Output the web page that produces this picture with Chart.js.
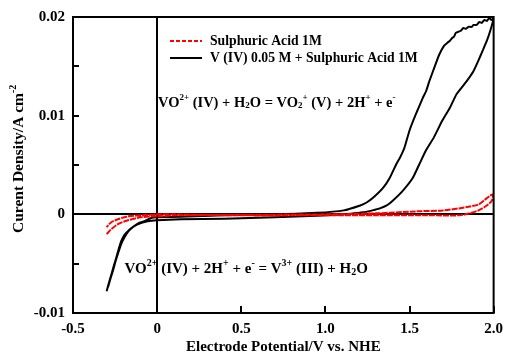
<!DOCTYPE html>
<html>
<head>
<meta charset="utf-8">
<script src="https://cdn.jsdelivr.net/npm/chart.js@4"></script>
<style>
  html, body { margin: 0; padding: 0; background: #fff; }
  #wrap { width: 510px; height: 358px; position: relative; }
</style>
</head>
<body>
<div id="wrap"><canvas id="cv"></canvas></div>
<script>
// axis ticks
const xTicks = [-0.5, 0, 0.5, 1.0, 1.5, 2.0];
const yTicks = [-0.01, 0, 0.01, 0.02];
const yMinorTicks = [-0.005, 0.005, 0.015];

// Sulphuric Acid 1M (one cycle)
const acidX = [-0.30, -0.272, -0.233, -0.174, -0.096, 0, 0.136, 0.5, 1.0, 1.3, 1.539, 1.7, 1.794, 1.86, 1.911, 1.95, 1.98, 1.995, 1.99, 1.96, 1.91, 1.833, 1.794, 1.6, 1.3, 1.0, 0.5, 0.1, 0, -0.096, -0.174, -0.233, -0.272, -0.301];
const acidY = [-0.0020, -0.0015, -0.0010, -0.0006, -0.0003, -0.0002, -0.0001, -0.00005, 0.0, 0.0001, 0.0003, 0.0004, 0.0006, 0.0008, 0.0010, 0.0015, 0.0019, 0.0020, 0.0014, 0.0009, 0.0004, 0.0, -0.0001, -0.0001, -0.0001, -0.0001, -0.0001, 0.0, 0.0, -0.0001, -0.0002, -0.0005, -0.0008, -0.0013];

// V (IV) 0.05 M + Sulphuric Acid 1M (one cycle)
const vanX = [-0.30, -0.286, -0.272, -0.257, -0.243, -0.228, -0.213, -0.195, -0.174, -0.145, -0.116, -0.057, 0, 0.14, 0.4, 0.7, 0.95, 1.07, 1.15, 1.226, 1.28, 1.324, 1.365, 1.402, 1.461, 1.52, 1.559, 1.595, 1.645, 1.695, 1.74, 1.78, 1.84, 1.88, 1.91, 1.935, 1.96, 1.98, 2.0,
  1.985, 1.975, 1.96, 1.945, 1.93, 1.915, 1.9, 1.88, 1.87, 1.85, 1.835, 1.82, 1.805, 1.79, 1.775, 1.765, 1.755, 1.74, 1.726, 1.706, 1.677, 1.648, 1.618, 1.599, 1.579, 1.539, 1.5, 1.471, 1.445, 1.422, 1.383, 1.344, 1.285, 1.245, 1.207, 1.109, 0.95, 0.7, 0.4, 0.14, 0, -0.04, -0.076, -0.11, -0.145, -0.17, -0.193, -0.213, -0.233, -0.248, -0.262, -0.277, -0.292];
const vanY = [-0.0078, -0.0069, -0.0061, -0.0052, -0.0044, -0.0035, -0.0027, -0.0021, -0.0017, -0.0013, -0.0010, -0.0007, -0.0006, -0.0005, -0.00045, -0.0003, -0.00015, -0.00005, 0.00005, 0.0002, 0.0004, 0.0006, 0.0009, 0.0014, 0.0024, 0.0037, 0.0051, 0.0064, 0.0078, 0.0095, 0.0108, 0.0122, 0.0135, 0.0145, 0.0156, 0.0166, 0.0176, 0.0186, 0.0199,
  0.0197, 0.0199, 0.0196, 0.0197, 0.0194, 0.0195, 0.0192, 0.0192, 0.0190, 0.0190, 0.0188, 0.0189, 0.0186, 0.0185, 0.0184, 0.0180, 0.0179, 0.0176, 0.0174, 0.0171, 0.0162, 0.0149, 0.0135, 0.0125, 0.0118, 0.0102, 0.0085, 0.0068, 0.0058, 0.0051, 0.0037, 0.0027, 0.0017, 0.0012, 0.0009, 0.0004, 0.00015, 0.0, -0.0001, -0.00025, -0.0003, -0.0004, -0.0007, -0.0009, -0.0013, -0.0017, -0.0023, -0.0030, -0.0040, -0.0048, -0.0057, -0.0065, -0.0074];

const seriesNames = ['Sulphuric Acid 1M', 'V (IV) 0.05 M + Sulphuric Acid 1M'];
const FONT = '"Liberation Serif", "Times New Roman", serif';

function toPoints(xs, ys) {
  return xs.map((x, i) => ({x: x, y: ys[i]}));
}

// text with superscripts / subscripts: parts = [[text, mode]] mode 1 = sup, -1 = sub
function drawRich(ctx, parts, x, y, size) {
  let cx = x;
  parts.forEach(p => {
    const mode = p[1] || 0;
    const s = mode === 0 ? size : Math.round(size * 0.65);
    ctx.font = 'bold ' + s + 'px ' + FONT;
    const dy = mode === 1 ? -size * 0.38 : (mode === -1 ? size * 0.22 : 0);
    ctx.fillText(p[0], cx, y + dy);
    cx += ctx.measureText(p[0]).width;
  });
  return cx - x;
}

const decor = {
  id: 'decor',
  beforeDatasetsDraw(chart) {
    const ctx = chart.ctx;
    const a = chart.chartArea;
    const xs = chart.scales.x, ys = chart.scales.y;
    ctx.save();
    ctx.strokeStyle = '#000';
    // zero lines
    ctx.lineWidth = 2;
    const x0 = Math.round(xs.getPixelForValue(0));
    const y0 = Math.round(ys.getPixelForValue(0));
    ctx.beginPath();
    ctx.moveTo(x0, a.top); ctx.lineTo(x0, a.bottom);
    ctx.moveTo(a.left, y0); ctx.lineTo(a.right, y0);
    ctx.stroke();
    ctx.restore();
  },
  afterDatasetsDraw(chart) {
    const ctx = chart.ctx;
    const a = chart.chartArea;
    const xs = chart.scales.x, ys = chart.scales.y;
    ctx.save();
    ctx.strokeStyle = '#000';
    ctx.lineWidth = 2;
    ctx.strokeRect(a.left, a.top, a.right - a.left, a.bottom - a.top);
    // inward ticks
    ctx.beginPath();
    xTicks.forEach(v => {
      const px = Math.round(xs.getPixelForValue(v));
      ctx.moveTo(px, a.bottom); ctx.lineTo(px, a.bottom - 7);
    });
    yTicks.concat(yMinorTicks).forEach(v => {
      const py = Math.round(ys.getPixelForValue(v));
      ctx.moveTo(a.left, py); ctx.lineTo(a.left + 6, py);
    });
    ctx.stroke();

    // legend
    ctx.fillStyle = '#000';
    ctx.textBaseline = 'middle';
    ctx.textAlign = 'left';
    const lx = a.left + 97, ly = a.top + 24;
    ctx.lineWidth = 2;
    ctx.strokeStyle = '#ff0000';
    ctx.setLineDash([4, 2]);
    ctx.beginPath(); ctx.moveTo(lx, ly); ctx.lineTo(lx + 32, ly); ctx.stroke();
    ctx.setLineDash([]);
    ctx.strokeStyle = '#000';
    ctx.beginPath(); ctx.moveTo(lx, ly + 17); ctx.lineTo(lx + 32, ly + 17); ctx.stroke();
    ctx.font = 'bold 13.7px ' + FONT;
    ctx.fillText(seriesNames[0], lx + 40, ly);
    ctx.fillText(seriesNames[1], lx + 40, ly + 17);

    // reaction labels
    drawRich(ctx, [['VO'], ['2+', 1], [' (IV) + H'], ['2', -1], ['O = VO'], ['2', -1], ['+', 1], [' (V) + 2H'], ['+', 1], [' + e'], ['-', 1]],
      xs.getPixelForValue(0.005), ys.getPixelForValue(0.0113), 14.5);
    drawRich(ctx, [['VO'], ['2+', 1], [' (IV) + 2H'], ['+', 1], [' + e'], ['-', 1], [' = V'], ['3+', 1], [' (III) + H'], ['2', -1], ['O']],
      xs.getPixelForValue(-0.194), ys.getPixelForValue(-0.0056), 15);

    // y axis title
    ctx.translate(19, (a.top + a.bottom) / 2 - 6);
    ctx.rotate(-Math.PI / 2);
    const t1 = 'Curent Density/A cm';
    ctx.font = 'bold 15.5px ' + FONT;
    const w = ctx.measureText(t1).width + 8;
    drawRich(ctx, [[t1], ['-2', 1]], -w / 2, 0, 15.5);
    ctx.restore();
  }
};

new Chart(document.getElementById('cv'), {
  type: 'scatter',
  data: {
    datasets: [
      {
        label: seriesNames[0],
        data: toPoints(acidX, acidY),
        showLine: true,
        borderColor: '#ff0000',
        borderWidth: 2,
        borderDash: [6, 1],
        pointRadius: 0,
        tension: 0.3
      },
      {
        label: seriesNames[1],
        data: toPoints(vanX, vanY),
        showLine: true,
        borderColor: '#000',
        borderWidth: 2,
        pointRadius: 0,
        tension: 0.1
      }
    ]
  },
  options: {
    responsive: true,
    maintainAspectRatio: false,
    animation: false,
    layout: { padding: { left: 0, right: 11, top: 17, bottom: 0 } },
    plugins: {
      legend: { display: false },
      tooltip: { enabled: false }
    },
    scales: {
      x: {
        type: 'linear',
        min: -0.5,
        max: 2.0,
        afterBuildTicks: axis => { axis.ticks = xTicks.map(v => ({value: v})); },
        afterFit: s => { s.height = 45; },
        grid: { display: false, drawTicks: false },
        border: { display: false },
        ticks: {
          color: '#000',
          padding: 7,
          autoSkip: false,
          maxRotation: 0,
          font: { family: FONT, size: 15, weight: 'bold' },
          callback: v => v === 0 ? '0' : v.toFixed(1)
        },
        title: {
          display: true,
          text: 'Electrode Potential/V vs. NHE',
          color: '#000',
          padding: { top: 0, bottom: 2 },
          font: { family: FONT, size: 15, weight: 'bold' }
        }
      },
      y: {
        type: 'linear',
        min: -0.01,
        max: 0.02,
        afterBuildTicks: axis => { axis.ticks = yTicks.map(v => ({value: v})); },
        afterFit: s => { s.width = 73; },
        grid: { display: false, drawTicks: false },
        border: { display: false },
        ticks: {
          color: '#000',
          padding: 8,
          autoSkip: false,
          font: { family: FONT, size: 15, weight: 'bold' },
          callback: v => v === 0 ? '0' : v.toFixed(2)
        }
      }
    }
  },
  plugins: [decor]
});
</script>
</body>
</html>
